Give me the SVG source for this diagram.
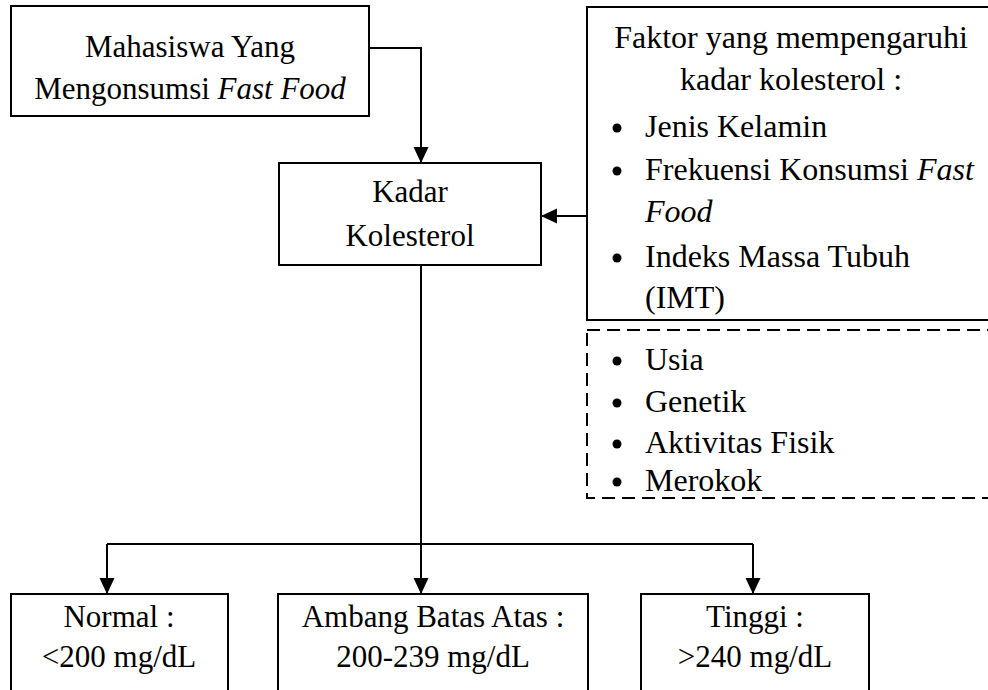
<svg xmlns="http://www.w3.org/2000/svg" width="988" height="690" viewBox="0 0 988 690">
<defs>
<style>
.box{fill:#fff;stroke:#000;stroke-width:2}
.dash{fill:none;stroke:#000;stroke-width:2;stroke-dasharray:13 7}
.t{font-family:'Liberation Serif','Times New Roman',serif;font-size:31px;fill:#000}
.b{font-size:32px}
.c{text-anchor:middle}
.i{font-style:italic}
.ln{fill:none;stroke:#000;stroke-width:2}
</style>
<marker id="arr" viewBox="0 0 16 16" refX="16" refY="8" markerWidth="16" markerHeight="16" markerUnits="userSpaceOnUse" orient="auto">
<path d="M0,0.5 L16,8 L0,15.5 Z" fill="#000"/>
</marker>
</defs>
<rect width="988" height="690" fill="#fff"/>

<g id="connectors">
<path class="ln" d="M369,48 H421 V163" marker-end="url(#arr)"/>
<path class="ln" d="M587,216 H541" marker-end="url(#arr)"/>
<path class="ln" d="M421,265 V594" marker-end="url(#arr)"/>
<path class="ln" d="M107,544 H753"/>
<path class="ln" d="M107,544 V594" marker-end="url(#arr)"/>
<path class="ln" d="M753,544 V594" marker-end="url(#arr)"/>
</g>

<g id="mahasiswa">
<rect class="box" x="11" y="6" width="358" height="110"/>
<text class="t c" x="190" y="57">Mahasiswa Yang</text>
<text class="t c" x="190" y="99">Mengonsumsi <tspan class="i">Fast Food</tspan></text>
</g>

<g id="kadar">
<rect class="box" x="279" y="163" width="262" height="102"/>
<text class="t c" x="410" y="202">Kadar</text>
<text class="t c" x="410" y="246">Kolesterol</text>
</g>

<g id="faktor">
<rect class="box" x="587" y="7" width="420" height="313"/>
<text class="t b c" x="791" y="48">Faktor yang mempengaruhi</text>
<text class="t b c" x="791" y="90">kadar kolesterol :</text>
<circle cx="617" cy="128" r="4.5"/>
<text class="t b" x="645" y="137">Jenis Kelamin</text>
<circle cx="617" cy="171" r="4.5"/>
<text class="t b" x="645" y="180">Frekuensi Konsumsi <tspan class="i">Fast</tspan></text>
<text class="t b i" x="645" y="222">Food</text>
<circle cx="617" cy="258" r="4.5"/>
<text class="t b" x="645" y="267">Indeks Massa Tubuh</text>
<text class="t b" x="645" y="308">(IMT)</text>
</g>

<g id="faktor-lain">
<rect class="dash" x="587" y="330" width="420" height="168"/>
<circle cx="617" cy="361" r="4.5"/>
<text class="t b" x="645" y="370">Usia</text>
<circle cx="617" cy="403" r="4.5"/>
<text class="t b" x="645" y="412">Genetik</text>
<circle cx="617" cy="444" r="4.5"/>
<text class="t b" x="645" y="453">Aktivitas Fisik</text>
<circle cx="617" cy="482" r="4.5"/>
<text class="t b" x="645" y="491">Merokok</text>
</g>

<g id="normal">
<rect class="box" x="11" y="594" width="217" height="110"/>
<text class="t c" x="119" y="627">Normal :</text>
<text class="t c" x="119" y="667">&lt;200 mg/dL</text>
</g>

<g id="ambang">
<rect class="box" x="278" y="594" width="310" height="110"/>
<text class="t c" x="433" y="627">Ambang Batas Atas :</text>
<text class="t c" x="433" y="667">200-239 mg/dL</text>
</g>

<g id="tinggi">
<rect class="box" x="641" y="594" width="228" height="110"/>
<text class="t c" x="755" y="627">Tinggi :</text>
<text class="t c" x="755" y="667">&gt;240 mg/dL</text>
</g>
</svg>
